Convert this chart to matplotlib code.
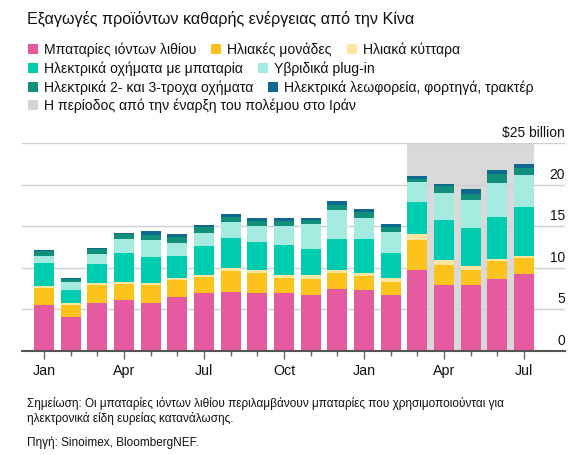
import numpy as np
import matplotlib
matplotlib.use('Agg')
import matplotlib.pyplot as plt
from matplotlib.patches import Rectangle
import matplotlib.transforms as mtransforms

plt.rcParams['font.family'] = ['Liberation Sans', 'DejaVu Sans']

# Monthly exports, $ billion (Jan of year 1 to Jul of year 2)
months = ['Jan', 'Feb', 'Mar', 'Apr', 'May', 'Jun', 'Jul', 'Aug', 'Sep', 'Oct',
          'Nov', 'Dec', 'Jan', 'Feb', 'Mar', 'Apr', 'May', 'Jun', 'Jul']
lithium = [5.52, 4.04, 5.72, 6.08, 5.76, 6.52, 6.92, 7.04, 7.00, 6.92,
           6.72, 7.48, 7.36, 6.68, 9.68, 7.88, 7.92, 8.60, 9.28]
solar_modules = [2.04, 1.48, 2.20, 1.96, 2.12, 2.00, 1.96, 2.52, 2.32, 1.80,
                 1.88, 1.84, 1.60, 1.64, 3.60, 2.44, 1.84, 2.16, 1.88]
solar_cells = [0.24, 0.20, 0.24, 0.28, 0.28, 0.24, 0.28, 0.40, 0.44, 0.40,
               0.48, 0.44, 0.44, 0.40, 0.80, 0.60, 0.40, 0.32, 0.28]
bev = [2.72, 1.56, 2.24, 3.48, 3.16, 2.64, 3.40, 3.56, 3.28, 3.60,
       3.20, 3.68, 4.00, 3.00, 3.80, 4.76, 4.60, 5.00, 5.84]
phev = [0.88, 1.04, 1.28, 1.64, 2.00, 1.52, 1.60, 1.96, 1.92, 2.32,
        2.92, 3.52, 2.52, 2.56, 2.40, 3.32, 3.40, 4.08, 3.84]
two_three_wheel = [0.64, 0.36, 0.60, 0.64, 0.60, 0.76, 0.68, 0.60, 0.64, 0.60,
                   0.56, 0.56, 0.76, 0.64, 0.40, 0.80, 0.72, 1.12, 0.88]
buses_trucks = [0.10, 0.06, 0.10, 0.10, 0.44, 0.36, 0.32, 0.40, 0.36, 0.36,
                0.24, 0.48, 0.40, 0.36, 0.40, 0.32, 0.56, 0.44, 0.52]

series = [lithium, solar_modules, solar_cells, bev, phev, two_three_wheel, buses_trucks]
labels = ['Μπαταρίες ιόντων λιθίου', 'Ηλιακές μονάδες', 'Ηλιακά κύτταρα',
          'Ηλεκτρικά οχήματα με μπαταρία', 'Υβριδικά plug-in',
          'Ηλεκτρικά 2- και 3-τροχα οχήματα', 'Ηλεκτρικά λεωφορεία, φορτηγά, τρακτέρ']
colors = ['#e65aa0', '#fcc31c', '#fde7a0', '#00cdb0', '#a6ebe0', '#10907a', '#0f688e']
war_label = 'Η περίοδος από την έναρξη του πολέμου στο Ιράν'
war_start, war_end = 14, 18  # Mar to Jul of year 2

yticks = [0, 5, 10, 15, 20, 25]
ytick_labels = ['0', '5', '10', '15', '20', '$25 billion']
labeled_months = [0, 3, 6, 9, 12, 15, 18]

W, H = 581, 456
fig = plt.figure(figsize=(W / 100, H / 100), dpi=100)
ax = fig.add_axes([22 / W, (H - 351.7) / H, 543 / W, 207.7 / H])

x = np.arange(len(months))
bw = 0.75
ax.axvspan(war_start - bw / 2, war_end + bw / 2, color='#d9d9d9', lw=0, zorder=0)
for t in yticks[1:]:
    ax.axhline(t, color='#cfcfcf', lw=1, zorder=1)

bottom = np.zeros(len(months))
for vals, c in zip(series, colors):
    ax.bar(x, vals, bw, bottom=bottom, color=c, lw=0, zorder=2)
    bottom += np.array(vals)

ax.set_xlim(-0.825, 19.54)
ax.set_ylim(0, 25)
for s in ['top', 'right', 'left']:
    ax.spines[s].set_visible(False)
ax.spines['bottom'].set_color('#555555')
ax.spines['bottom'].set_linewidth(1.5)
ax.spines['bottom'].set_zorder(3)
ax.set_yticks([])

ax.set_xticks(labeled_months)
ax.set_xticklabels([months[i] for i in labeled_months], fontsize=10.3, color='#111111')
ax.set_xticks(x, minor=True)
ax.tick_params(axis='x', which='major', length=6, width=1, color='#666666', pad=3)
ax.tick_params(axis='x', which='minor', length=3.5, width=1, color='#666666')

off = mtransforms.offset_copy(ax.get_yaxis_transform(), fig=fig, x=0, y=4, units='dots')
for t, lab in zip(yticks, ytick_labels):
    ax.text(1.0, t, lab, transform=off, ha='right', va='bottom', fontsize=9.9, color='#111111')

fig.text(27 / W, 1 - 19 / H, 'Εξαγωγές προϊόντων καθαρής ενέργειας από την Κίνα',
         fontsize=11.6, va='center', ha='left', color='#111111')

# legend rows, laid out manually
rows = [[0, 1, 2], [3, 4], [5, 6], [7]]
row_y = [50, 69, 88, 106]
renderer = fig.canvas.get_renderer()
all_labels = labels + [war_label]
all_colors = colors + ['#d4d4d4']
for r, yy in zip(rows, row_y):
    xx = 28
    for i in r:
        fig.patches.append(Rectangle((xx / W, 1 - (yy + 5) / H), 10 / W, 10 / H,
                                     transform=fig.transFigure, color=all_colors[i], lw=0))
        t = fig.text((xx + 16) / W, 1 - yy / H, all_labels[i], fontsize=10.1,
                     va='center', ha='left', color='#111111')
        bb = t.get_window_extent(renderer)
        xx = xx + 16 + bb.width + 15

fig.text(27 / W, 1 - 404 / H,
         'Σημείωση: Οι μπαταρίες ιόντων λιθίου περιλαμβάνουν μπαταρίες που χρησιμοποιούνται για',
         fontsize=8.5, va='center', ha='left', color='#111111')
fig.text(27 / W, 1 - 419 / H, 'ηλεκτρονικά είδη ευρείας κατανάλωσης.',
         fontsize=8.5, va='center', ha='left', color='#111111')
fig.text(27 / W, 1 - 443 / H, 'Πηγή: Sinoimex, BloombergNEF.',
         fontsize=8.5, va='center', ha='left', color='#111111')

fig.savefig('out.png', dpi=100)
